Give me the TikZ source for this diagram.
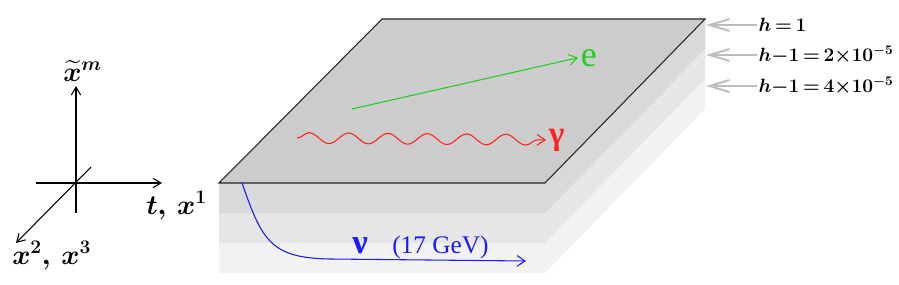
\documentclass[tikz,border=0pt]{standalone}
\usepackage{fontspec}
\usepackage{amsmath}
\usetikzlibrary{arrows.meta, positioning, calc, decorations.pathmorphing}
\newfontfamily\timesfont{Liberation Serif}
\definecolor{slabtop}{HTML}{CCCCCC}
\definecolor{slabone}{HTML}{D9D9D9}
\definecolor{slabtwo}{HTML}{E6E6E6}
\definecolor{slabthree}{HTML}{F2F2F2}
\definecolor{taggray}{HTML}{BDBDBD}
\definecolor{trackgreen}{HTML}{22CC22}
\definecolor{trackred}{HTML}{FF2020}
\definecolor{trackblue}{HTML}{1A1AFF}

\begin{document}
\begin{tikzpicture}[x=0.75pt, y=-0.75pt, font=\timesfont,
  axis/.style={line width=0.8pt, -{Straight Barb[length=6pt,width=7pt]}},
  axislabel/.style={anchor=base west, inner sep=0pt,
    font=\fontsize{21}{24}\selectfont\boldmath},
  tag/.style={anchor=west, inner sep=1pt, text height=10pt, text depth=0pt,
    font=\fontsize{14.5}{16}\selectfont\boldmath},
  tagarrow/.style={draw=taggray, line width=1.5pt,
    -{Straight Barb[length=15pt,width=9pt]}},
  track/.style={line width=0.8pt, -{Straight Barb[length=6pt,width=8pt]}}]
  \useasboundingbox (0,0) rectangle (899,285);

  \foreach \k/\col in {3/slabthree, 2/slabtwo, 1/slabone}
    \fill[\col] (219,183) -- (219,{183+30*\k}) -- (545,{183+30*\k})
      -- (705,{19+30*\k}) -- (705,19) -- cycle;
  \filldraw[fill=slabtop, draw=black!85, line width=0.8pt]
    (219,183) -- (545,183) -- (705,19) -- (382,19) -- cycle;

  \coordinate (origin) at (76,183);
  \coordinate (up) at (76,86);
  \coordinate (down) at (76,213);
  \coordinate (left) at (36,183);
  \coordinate (right) at (162,183);
  \coordinate (back) at (91,167);
  \coordinate (front) at (16,243);
  \draw[axis] (down) -- (up);
  \draw[axis] (left) -- (right);
  \draw[axis] (back) -- (front);
  \node[axislabel] (xm) at (63,81) {$\widetilde{x}^{m}$};
  \node[axislabel] (tx) at (146,214) {$t,\,x^1$};
  \node[axislabel] (xx) at (12,264) {$x^2,\,x^3$};

  \node[tag] (tag1) at (757,25) {$h\,{=}\,1$};
  \node[tag] (tag2) at (757,55) {$h{-}1\,{=}\,2{\times}10^{-5}$};
  \node[tag] (tag3) at (757,86) {$h{-}1\,{=}\,4{\times}10^{-5}$};
  \coordinate (edge1) at (706,25);
  \coordinate (edge2) at (706,55);
  \coordinate (edge3) at (706,86);
  \draw[tagarrow] (tag1.west) -- (edge1);
  \draw[tagarrow] (tag2.west) -- (edge2);
  \draw[tagarrow] (tag3.west) -- (edge3);

  \coordinate (estart) at (352,109);
  \node[anchor=base west, inner sep=2pt, text=trackgreen,
    font=\fontsize{27}{30}\selectfont\timesfont] (elabel) at (578,66) {e};
  \draw[track, trackgreen] (estart) -- (elabel.west);

  \coordinate (gstart) at (297,138);
  \node[anchor=base west, inner sep=2pt, text=trackred,
    font=\fontsize{25}{28}\selectfont\bfseries\timesfont] (glabel) at (546,144) {γ};
  \draw[track, trackred, decorate,
    decoration={snake, amplitude=4pt, segment length=29.5pt, post length=6pt}]
    (gstart) -- (glabel.west);

  \coordinate (nustart) at (242,183);
  \coordinate (nuend) at (526,261);
  \draw[track, trackblue] (nustart) .. controls (262,240) and (270,258)
    .. (330,259) -- (nuend);
  \node[anchor=base west, inner sep=0pt, text=trackblue,
    font=\fontsize{26}{28}\selectfont\bfseries\timesfont] (nulabel) at (352,253) {ν};
  \node[anchor=base west, inner sep=0pt, text=trackblue,
    font=\fontsize{19}{22}\selectfont\timesfont] (energy) at (392,253) {(17 GeV)};
\end{tikzpicture}
\end{document}
